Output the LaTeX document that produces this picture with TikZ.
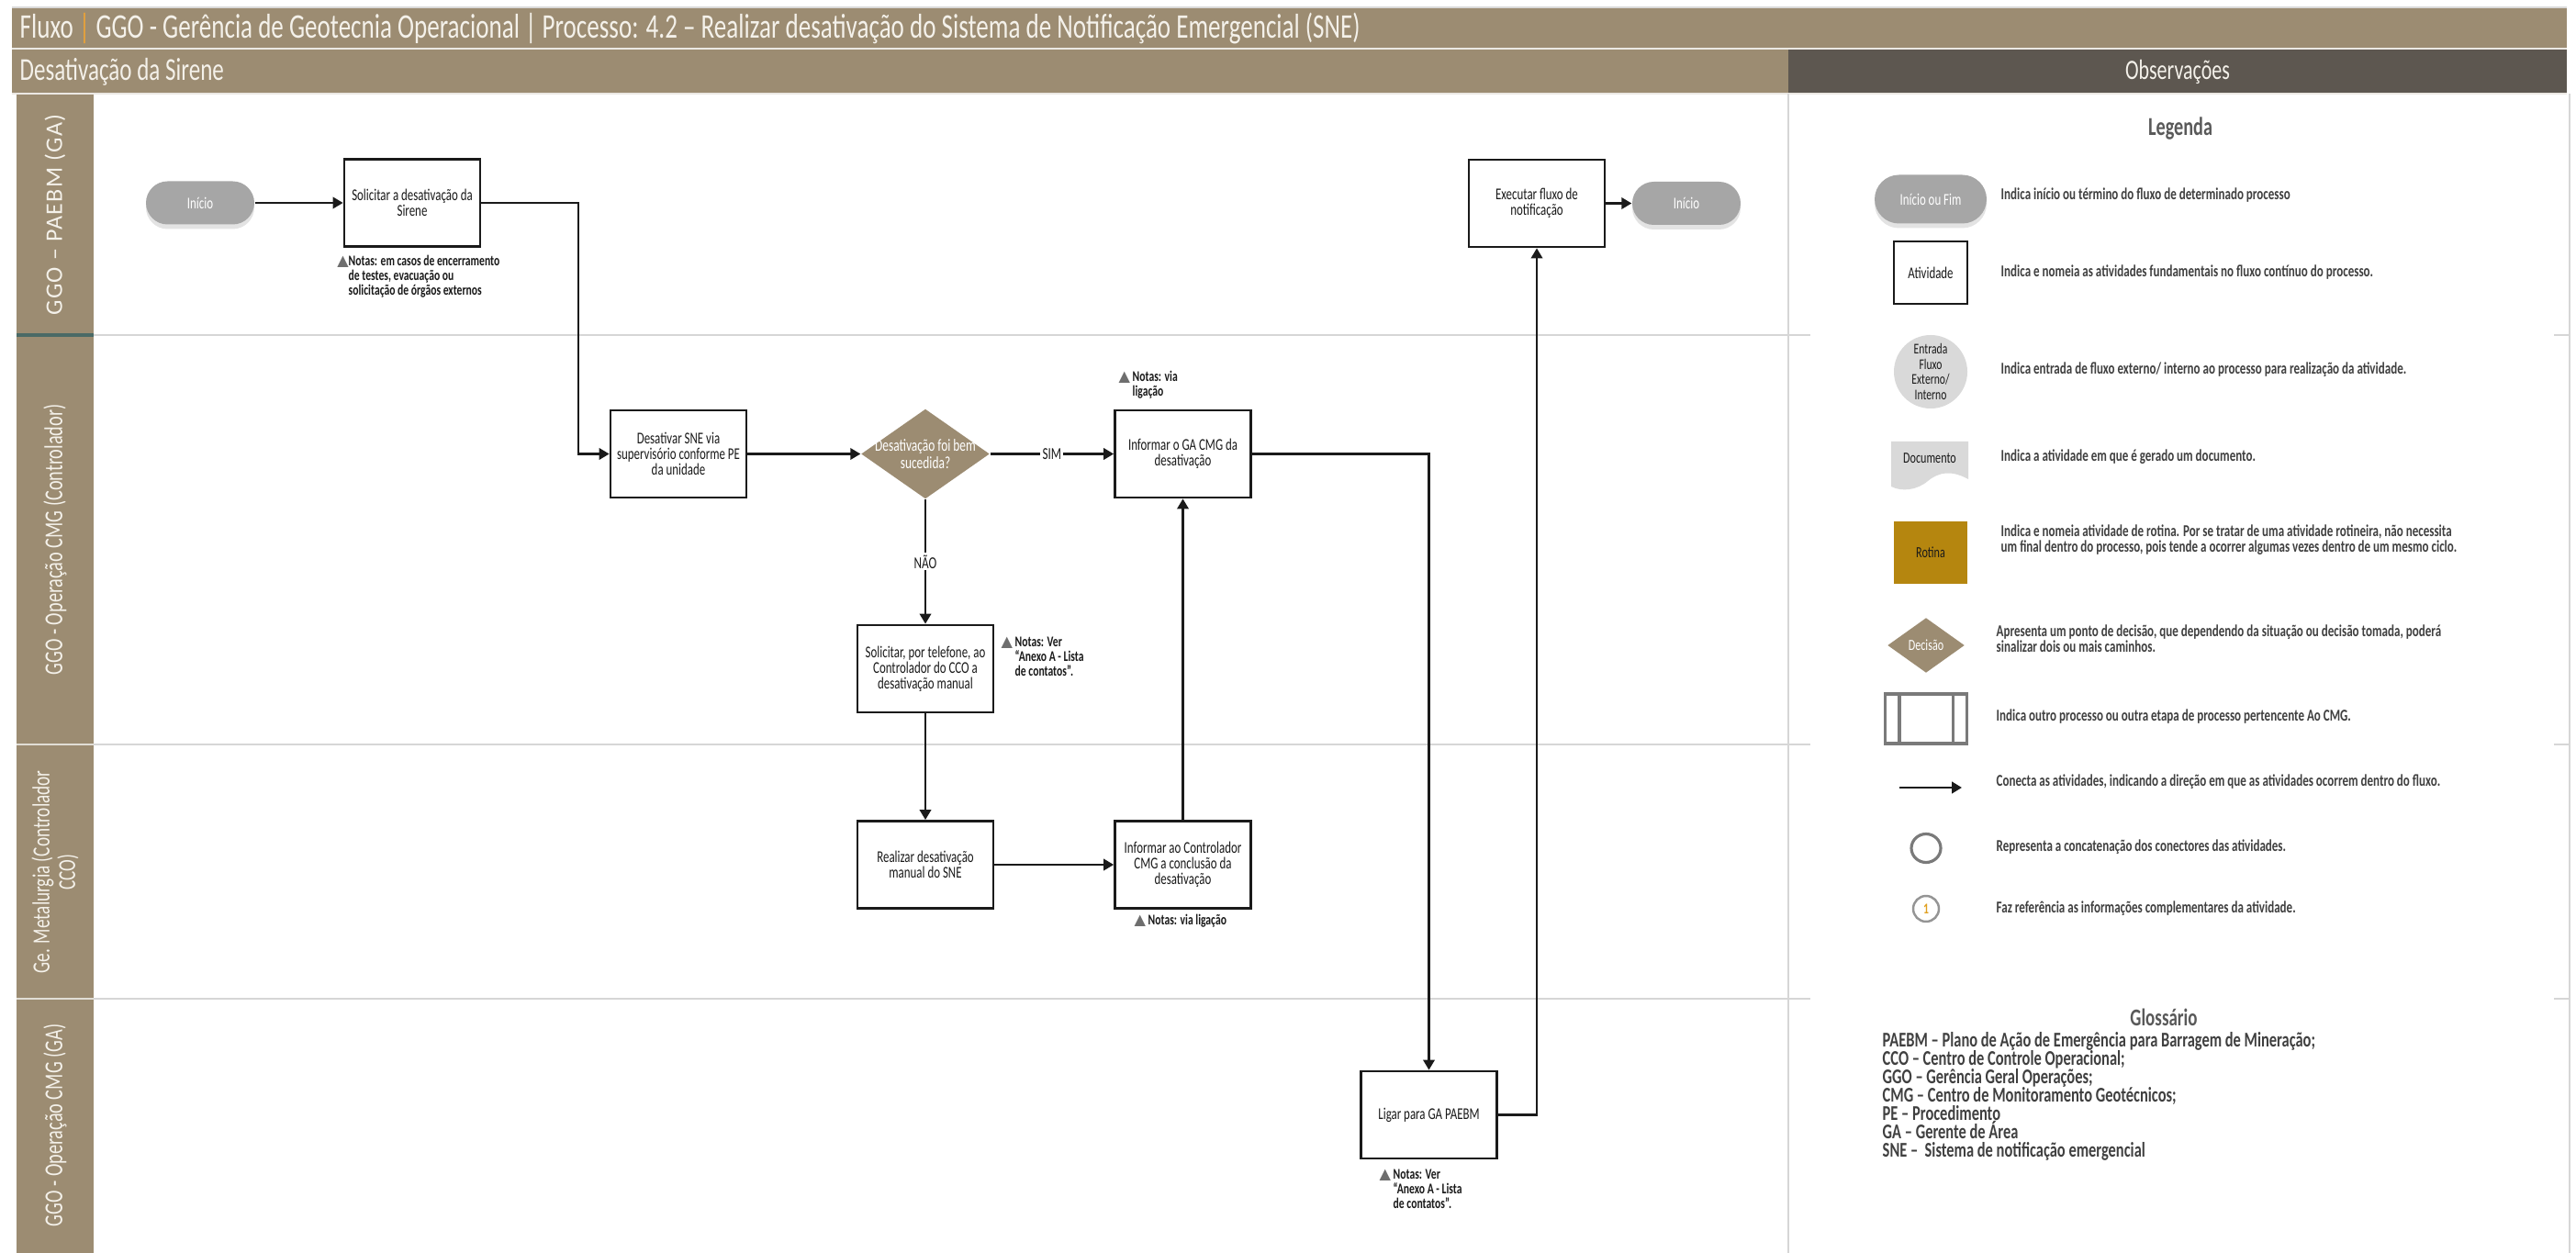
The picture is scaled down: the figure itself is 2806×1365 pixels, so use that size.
\documentclass[tikz,border=0pt]{standalone}
\usepackage{fontspec}
\setmainfont{Carlito}[FakeStretch=0.72]
\newfontfamily\widefont{Carlito}[LetterSpace=5]
\newfontfamily\symfont{DejaVu Sans}
\usetikzlibrary{shapes.geometric, arrows.meta, shadows, calc}

\definecolor{band}{HTML}{9C8C72}
\definecolor{obsband}{HTML}{5D5750}
\definecolor{pillgray}{HTML}{A6A6A6}
\definecolor{rotgold}{HTML}{B5860F}
\definecolor{ink}{HTML}{1A1A1A}
\definecolor{laneline}{HTML}{D6D6D6}
\definecolor{txtgray}{HTML}{404040}
\definecolor{headgray}{HTML}{595959}
\definecolor{notegray}{HTML}{6E6E6E}
\definecolor{orangebar}{HTML}{E8A23A}
\definecolor{headtxt}{HTML}{F4F1EA}
\definecolor{lightshape}{HTML}{D9D9D9}
\definecolor{subgray}{HTML}{7A7A7A}
\definecolor{teal}{HTML}{4A6A66}
\definecolor{numgold}{HTML}{E0A020}

\newcommand\titlef{\fontsize{10.7}{11}\selectfont}
\newcommand\subf{\fontsize{9.9}{10.5}\selectfont}
\newcommand\lanef{\fontsize{8}{8.6}\selectfont}
\newcommand\boxf{\fontsize{5.1}{4.85}\selectfont}
\newcommand\notef{\bfseries\fontsize{4.6}{4.55}\selectfont}
\newcommand\legf{\bfseries\fontsize{5.15}{4.9}\selectfont}
\newcommand\glosf{\bfseries\fontsize{6.5}{5.7}\selectfont}
\newcommand\notemark{{\symfont\color{notegray}\fontsize{4.6}{4.6}\selectfont ▲}}

\begin{document}
\begin{tikzpicture}[x=0.1mm, y=-0.1mm,
  act/.style={draw=ink, line width=0.8pt, fill=white, minimum width=14.8mm,
    minimum height=9.5mm, inner sep=0pt, align=center, text=ink, font=\boxf},
  pill/.style={fill=pillgray, rounded corners=2.35mm, minimum width=11.8mm,
    minimum height=4.7mm, inner sep=0pt, text=white, font=\boxf,
    drop shadow={opacity=0.22, shadow xshift=0mm, shadow yshift=-0.5mm}},
  decision/.style={diamond, fill=band, minimum width=14mm, minimum height=9.8mm,
    inner sep=0pt, aspect=1.43},
  dtext/.style={text=white, align=center, font=\fontsize{5.3}{5.5}\selectfont, inner sep=0pt},
  arr/.style={draw=ink, line width=0.6pt, -{Triangle[length=1.1mm, width=1.25mm]}},
  lbl/.style={fill=white, inner sep=0.6pt, text=ink, font=\fontsize{5.2}{5.4}\selectfont},
  note/.style={anchor=north west, align=left, inner sep=0pt, text=ink, font=\notef},
  lanelbl/.style={rotate=90, text=headtxt, align=center, font=\lanef},
  legtxt/.style={anchor=west, align=left, inner sep=0pt, text=txtgray, font=\legf},
  laneln/.style={draw=laneline, line width=0.8pt}
]
\useasboundingbox (0,0) rectangle (2806,1365);
\fill[white] (0,0) rectangle (2806,1365);

% header bands
\fill[band] (13,9) rectangle (2796,52);
\draw[lightshape, line width=0.5pt] (13,8) -- (2796,8);
\fill[band] (13,54) rectangle (1948,101);
\fill[obsband] (1948,54) rectangle (2796,101);
\draw[white!80!band, line width=0.6pt] (13,53) -- (2796,53);
\draw[white!80!band, line width=0.6pt] (13,102) -- (2796,102);

\node[anchor=west, inner sep=0pt, text=headtxt, font=\titlef] (title) at (21,31)
  {Fluxo {\color{orangebar}|} GGO - Gerência de Geotecnia Operacional | Processo: 4.2 – Realizar desativação do Sistema de Notificação Emergencial (SNE)};
\node[anchor=west, inner sep=0pt, text=headtxt, font=\subf] (sub) at (21,78) {Desativação da Sirene};
\node[text=headtxt, font=\fontsize{8.7}{9}\selectfont] (obs) at (2372,78) {Observações};

% swimlane column
\fill[band] (18,103) rectangle (102,1365);
\draw[teal, line width=1pt] (18,365) -- (102,365);
\draw[white!70!band, line width=0.8pt] (18,811) -- (102,811);
\draw[white!70!band, line width=0.8pt] (18,1088) -- (102,1088);

\node[lanelbl, font=\widefont\fontsize{7.4}{8}\selectfont] (lane1) at (60,234) {GGO – PAEBM (GA)};
\node[lanelbl] (lane2) at (60,588) {GGO - Operação CMG (Controlador)};
\node[lanelbl, font=\fontsize{7.6}{8}\selectfont] (lane3) at (60,950) {Ge. Metalurgia (Controlador\\CCO)};
\node[lanelbl] (lane4) at (60,1226) {GGO - Operação CMG (GA)};

% lane separators and panel borders
\foreach \yy in {365,811,1088} {
  \draw[laneln] (102,\yy) -- (1972,\yy);
  \draw[laneln] (2782,\yy) -- (2800,\yy);
}
\draw[laneln] (1948,102) -- (1948,1365);
\draw[laneln] (2799,102) -- (2799,1365);

% process nodes
\node[pill] (ini) at (218,221) {Início};
\node[act] (sol) at (449,221) {Solicitar a desativação da\\Sirene};
\node[act] (desat) at (739,494.5) {Desativar SNE via\\supervisório conforme PE\\da unidade};
\node[decision] (dec) at (1008,494.5) {};
\node[dtext] (dectxt) at (dec) {Desativação foi bem\\sucedida?};
\node[act] (infga) at (1288.5,494.5) {Informar o GA CMG da\\desativação};
\node[act] (soltel) at (1008,728.5) {Solicitar, por telefone, ao\\Controlador do CCO a\\desativação manual};
\node[act] (realiz) at (1008,942) {Realizar desativação\\manual do SNE};
\node[act] (infctrl) at (1288.5,942) {Informar ao Controlador\\CMG a conclusão da\\desativação};
\node[act] (ligar) at (1556.5,1214.5) {Ligar para GA PAEBM};
\node[act] (exec) at (1674,221.5) {Executar fluxo de\\notificação};
\node[pill] (fim) at (1837,221.5) {Início};

% connectors
\coordinate (j1) at (630,221);
\draw[arr] (ini) -- (sol);
\draw[arr] (sol.east) -- (j1) |- (desat.west);
\draw[arr] (desat) -- (dec);
\draw[arr] (dec) -- node[lbl] (sim) {SIM} (infga);
\draw[arr] (dec) -- node[lbl] (nao) {NÃO} (soltel);
\draw[arr] (soltel) -- (realiz);
\draw[arr] (realiz) -- (infctrl);
\draw[arr] (infctrl) -- (infga);
\draw[arr] (infga.east) -| (ligar.north);
\draw[arr] (ligar.east) -| (exec.south);
\draw[arr] (exec) -- (fim);

% notes
\node[note] (n1) at (379,277) {\llap{\notemark}Notas: em casos de encerramento\\de testes, evacuação ou\\solicitação de órgãos externos};
\node[note] (n2) at (1233,403) {\llap{\notemark\ }Notas: via\\ligação};
\node[note] (n3) at (1105,693) {\llap{\notemark\ }Notas: Ver\\“Anexo A - Lista\\de contatos”.};
\node[note] (n4) at (1250,995) {\llap{\notemark\ }Notas: via ligação};
\node[note] (n5) at (1517,1273) {\llap{\notemark\ }Notas: Ver\\“Anexo A - Lista\\de contatos”.};

% legend
\node[text=headgray, font=\bfseries\fontsize{8}{9}\selectfont] (legtitle) at (2375,140) {Legenda};

\node[pill, minimum width=12.2mm, minimum height=5.3mm, rounded corners=2.65mm] (lg1) at (2103,217) {Início ou Fim};
\node[legtxt] (ld1) at (2179,213) {Indica início ou término do fluxo de determinado processo};

\node[act, minimum width=8mm, minimum height=6.8mm, line width=0.75pt] (lg2) at (2103,297) {Atividade};
\node[legtxt] (ld2) at (2179,297) {Indica e nomeia as atividades fundamentais no fluxo contínuo do processo.};

\node[ellipse, fill=lightshape, minimum width=8mm, minimum height=8mm, inner sep=0pt] (lg3) at (2103,405) {};
\node[align=center, inner sep=0pt, text=ink, font=\fontsize{4.6}{4.7}\selectfont] (lg3t) at (lg3) {Entrada\\Fluxo\\Externo/\\Interno};
\node[legtxt] (ld3) at (2179,403) {Indica entrada de fluxo externo/ interno ao processo para realização da atividade.};

\path[fill=lightshape] (2060,481) -- (2144,481) -- (2144,522)
  .. controls (2126,512) and (2112,514) .. (2100,524)
  .. controls (2088,534) and (2072,536) .. (2060,530) -- cycle;
\node[inner sep=0pt, text=ink, font=\fontsize{4.8}{4.9}\selectfont] (lg4) at (2102,499) {Documento};
\node[legtxt] (ld4) at (2179,498) {Indica a atividade em que é gerado um documento.};

\node[fill=rotgold, minimum width=8mm, minimum height=6.8mm, inner sep=0pt, text=ink, font=\fontsize{4.8}{4.9}\selectfont] (lg5) at (2103,602) {Rotina};
\node[legtxt] (ld5) at (2179,588) {Indica e nomeia atividade de rotina. Por se tratar de uma atividade rotineira, não necessita\\um final dentro do processo, pois tende a ocorrer algumas vezes dentro de um mesmo ciclo.};

\node[decision, minimum width=8.4mm, minimum height=6mm] (lg6) at (2098,703) {};
\node[dtext, font=\fontsize{4.8}{4.9}\selectfont] (lg6t) at (lg6) {Decisão};
\node[legtxt] (ld6) at (2174,696) {Apresenta um ponto de decisão, que dependendo da situação ou decisão tomada, poderá\\sinalizar dois ou mais caminhos.};

\node[draw=subgray, line width=0.9pt, minimum width=8.9mm, minimum height=5.4mm, inner sep=0pt] (lg7) at (2098,783) {};
\draw[subgray, line width=0.9pt] ($(lg7.north west)+(17,0)$) -- ($(lg7.south west)+(17,0)$)
  ($(lg7.north east)+(-17,0)$) -- ($(lg7.south east)+(-17,0)$);
\node[legtxt] (ld7) at (2174,781) {Indica outro processo ou outra etapa de processo pertencente Ao CMG.};

\coordinate (la1) at (2069,858);
\coordinate (la2) at (2137,858);
\draw[arr, line width=0.8pt] (la1) -- (la2);
\node[legtxt] (ld8) at (2174,852) {Conecta as atividades, indicando a direção em que as atividades ocorrem dentro do fluxo.};

\node[ellipse, draw=subgray, line width=0.9pt, minimum width=3.2mm, minimum height=3.1mm, inner sep=0pt] (lg9) at (2098,924) {};
\node[legtxt] (ld9) at (2174,923) {Representa a concatenação dos conectores das atividades.};

\node[circle, draw=subgray!80, line width=0.7pt, minimum size=2.8mm, inner sep=0pt, text=numgold, font=\bfseries\fontsize{4.6}{4.6}\selectfont] (lg10) at (2098,990) {1};
\node[legtxt] (ld10) at (2174,990) {Faz referência as informações complementares da atividade.};

% glossary
\node[text=headgray, font=\bfseries\fontsize{7.5}{8}\selectfont] (glostitle) at (2357,1108) {Glossário};
\node[anchor=north west, align=left, inner sep=0pt, text=txtgray, font=\glosf] (glos) at (2050,1124)
  {PAEBM – Plano de Ação de Emergência para Barragem de Mineração;\\
   CCO – Centro de Controle Operacional;\\
   GGO – Gerência Geral Operações;\\
   CMG – Centro de Monitoramento Geotécnicos;\\
   PE – Procedimento\\
   GA – Gerente de Área\\
   SNE –\ \ Sistema de notificação emergencial};
\end{tikzpicture}
\end{document}
